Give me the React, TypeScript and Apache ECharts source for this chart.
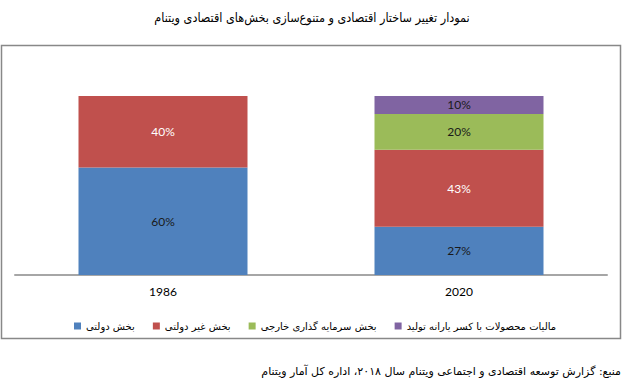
import React, { useEffect, useRef } from "react";
import * as echarts from "echarts";

const categories = ["1986", "2020"];
const seriesNames = [
  "بخش دولتی",
  "بخش غیر دولتی",
  "بخش سرمایه گذاری خارجی",
  "مالیات محصولات با کسر یارانه تولید",
];
const stateSector = [60, 27];
const nonStateSector = [40, 43];
const foreignInvestment = [0, 20];
const productTaxes = [0, 10];
const colors = ["#4F81BD", "#C0504D", "#9BBB59", "#8064A2"];
const labelColors = ["#1a1a1a", "#ffffff", "#1a1a1a", "#1a1a1a"];
const titleText = "نمودار تغییر ساختار اقتصادی و متنوع‌سازی بخش‌های اقتصادی ویتنام";
const sourceText = "منبع: گزارش توسعه اقتصادی و اجتماعی ویتنام سال ۲۰۱۸، اداره کل آمار ویتنام";

export default function App() {
  const ref = useRef<HTMLDivElement>(null);
  useEffect(() => {
    document.body.style.margin = "0";
    const chart = echarts.init(ref.current!, undefined, { renderer: "svg" });
    const allData = [stateSector, nonStateSector, foreignInvestment, productTaxes];
    chart.setOption({
      animation: false,
      textStyle: { fontFamily: "DejaVu Sans" },
      graphic: [
        {
          type: "rect",
          shape: { x: 1.5, y: 45.5, width: 619, height: 293 },
          style: { fill: "none", stroke: "#888888", lineWidth: 1.5 },
          silent: true,
        },
        {
          type: "text",
          x: 312,
          y: 17,
          style: {
            text: titleText,
            font: "12.5px 'DejaVu Sans Condensed', 'DejaVu Sans'",
            fill: "#000",
            textAlign: "center",
            textVerticalAlign: "middle",
          },
        },
        {
          type: "text",
          x: 621,
          y: 371,
          style: {
            text: sourceText,
            font: "11px 'DejaVu Sans'",
            fill: "#000",
            textAlign: "right",
            textVerticalAlign: "middle",
          },
        },
      ],
      grid: { left: 15, right: 19, top: 96, bottom: 117 },
      legend: {
        data: seriesNames,
        top: 316,
        left: 69,
        itemWidth: 7,
        itemHeight: 7,
        itemGap: 18,
        icon: "rect",
        textStyle: { fontFamily: "DejaVu Sans", fontSize: 10, color: "#000" },
      },
      xAxis: {
        type: "category",
        data: categories,
        axisLine: { lineStyle: { color: "#a6a6a6", width: 2 } },
        axisTick: { show: false },
        axisLabel: { color: "#000", fontFamily: "Lato", fontSize: 12, margin: 10 },
      },
      yAxis: {
        type: "value",
        min: 0,
        max: 100,
        show: false,
        splitLine: { show: false },
      },
      series: seriesNames.map((name, i) => ({
        name,
        type: "bar",
        stack: "total",
        barWidth: 169,
        data: allData[i],
        itemStyle: { color: colors[i] },
        label: {
          show: true,
          position: "inside",
          color: labelColors[i],
          fontFamily: "Lato",
          fontSize: 12,
          formatter: (p: any) => (p.value ? p.value + "%" : ""),
        },
      })),
    });
    return () => chart.dispose();
  }, []);
  return <div ref={ref} style={{ width: 626, height: 392 }} />;
}
